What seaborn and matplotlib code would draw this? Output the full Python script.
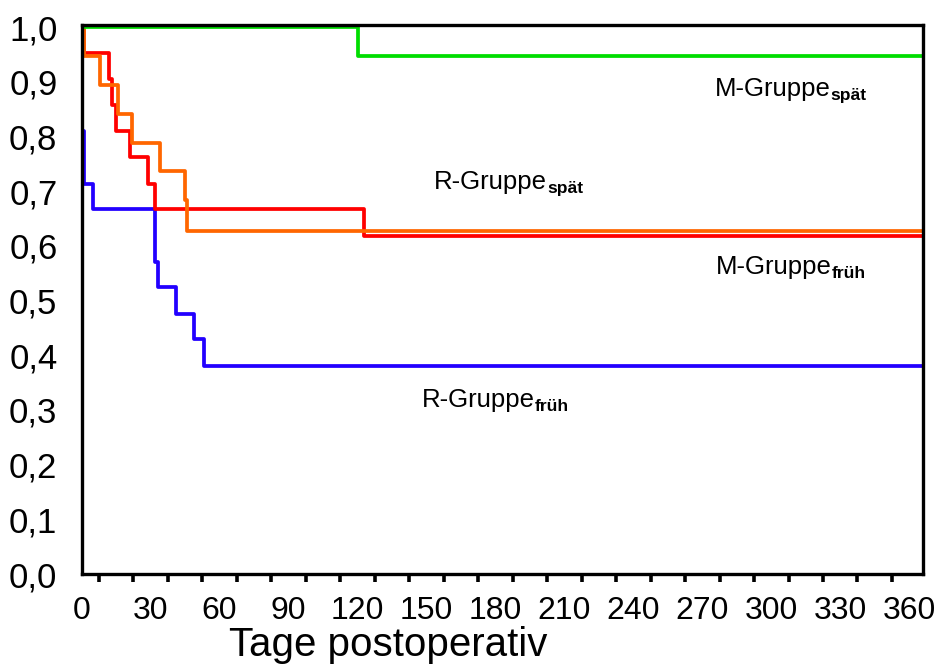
import numpy as np
import pandas as pd
import matplotlib
matplotlib.use("Agg")
import matplotlib.pyplot as plt
import seaborn as sns

# Kaplan-Meier step curves: days of each step and survival from that day on
r_frueh_days = [0, 0.3, 0.8, 5, 32, 33, 41, 49, 53, 366]
r_frueh_surv = [1.0, 0.810, 0.714, 0.667, 0.571, 0.524, 0.476, 0.429, 0.381, 0.381]

m_frueh_days = [0, 0.8, 12, 13, 15, 21, 29, 32, 123, 366]
m_frueh_surv = [1.0, 0.952, 0.905, 0.857, 0.810, 0.762, 0.714, 0.667, 0.619, 0.619]

r_spaet_days = [0, 0.8, 8, 16, 22, 34, 45, 46, 366]
r_spaet_surv = [1.0, 0.947, 0.895, 0.842, 0.789, 0.737, 0.684, 0.628, 0.628]

m_spaet_days = [0, 120, 366]
m_spaet_surv = [1.0, 0.947, 0.947]

groups = ["R-Gruppe früh", "M-Gruppe früh", "R-Gruppe spät", "M-Gruppe spät"]
colors = ["#2200ff", "#ff0000", "#ff6600", "#00dd00"]

x_ticks_labelled = [0, 30, 60, 90, 120, 150, 180, 210, 240, 270, 300, 330, 360]
x_tick_labels = ["0", "30", "60", "90", "120", "150", "180", "210", "240",
                 "270", "300", "330", "360"]
y_ticks = [0.0, 0.1, 0.2, 0.3, 0.4, 0.5, 0.6, 0.7, 0.8, 0.9, 1.0]
y_tick_labels = ["0,0", "0,1", "0,2", "0,3", "0,4", "0,5", "0,6", "0,7",
                 "0,8", "0,9", "1,0"]

frames = []
for name, d, s in zip(groups,
                      [r_frueh_days, m_frueh_days, r_spaet_days, m_spaet_days],
                      [r_frueh_surv, m_frueh_surv, r_spaet_surv, m_spaet_surv]):
    frames.append(pd.DataFrame({"Tage": d, "Überleben": s, "Gruppe": name}))
df = pd.concat(frames, ignore_index=True)

sns.set_style("white")
plt.rcParams["font.family"] = ["Liberation Sans", "DejaVu Sans"]

fig = plt.figure(figsize=(9.39, 6.68), dpi=100)
ax = fig.add_axes([81.7 / 939, 1 - 574 / 668, (923 - 81.7) / 939, (574 - 24.5) / 668])

sns.lineplot(data=df, x="Tage", y="Überleben", hue="Gruppe", hue_order=groups,
             palette=colors, estimator=None, sort=False, drawstyle="steps-post",
             linewidth=2.7, legend=False, ax=ax)

ax.set_xlim(0, 366)
ax.set_ylim(0, 1.005)

# x axis: labelled ticks every 30 days, unlabelled ones in between, small ones at 7.5
major_x = np.arange(0, 361, 15)
ax.set_xticks(major_x)
lab_map = dict(zip(x_ticks_labelled, x_tick_labels))
ax.set_xticklabels([lab_map.get(int(v), "") for v in major_x])
ax.set_xticks(np.arange(7.5, 366, 15), minor=True)
ax.set_yticks(y_ticks)
ax.set_yticklabels(y_tick_labels)

ax.tick_params(axis="both", which="major", direction="out", length=12.5,
               width=2.6, color="black", labelcolor="black")
ax.tick_params(axis="x", which="major", pad=3, labelsize=23)
ax.tick_params(axis="y", which="major", pad=5, labelsize=25)
ax.tick_params(axis="x", which="minor", direction="out", length=6,
               width=2.6, color="black", bottom=True)

for sp in ax.spines.values():
    sp.set_visible(True)
    sp.set_color("black")
    sp.set_linewidth(2.4)

ax.set_xlabel("Tage postoperativ", fontsize=29, color="black")
ax.xaxis.set_label_coords((388 - 81.7) / 841.3, -(626 - 574) / 549.5)
ax.set_ylabel("")


def group_label(x, y, main, sub):
    t = ax.text(x, y, main, fontsize=18.5, color="black", va="baseline", ha="left")
    ax.annotate(sub, xy=(1, 0), xycoords=t, xytext=(0, -1.5),
                textcoords="offset points", fontsize=12.6, fontweight="bold",
                va="bottom", ha="left", color="black")


group_label(275.5, 0.874, "M-Gruppe", "spät")
group_label(153.4, 0.705, "R-Gruppe", "spät")
group_label(275.9, 0.549, "M-Gruppe", "früh")
group_label(147.8, 0.305, "R-Gruppe", "früh")

fig.savefig("out.png", dpi=100)
